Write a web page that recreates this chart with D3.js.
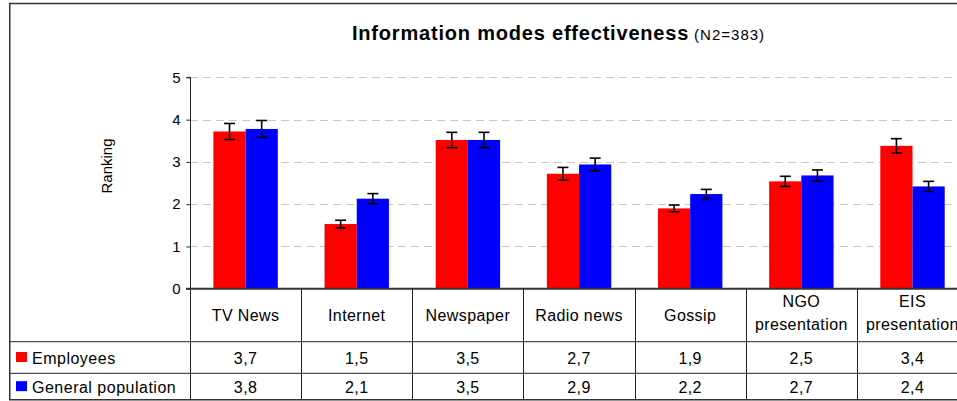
<!DOCTYPE html>
<html>
<head>
<meta charset="utf-8">
<script src="https://cdn.jsdelivr.net/npm/d3@7"></script>
<style>
  html, body { margin: 0; padding: 0; background: #fff; }
  svg { display: block; }
  text { font-family: "Liberation Sans", Arial, sans-serif; fill: #000; }
</style>
</head>
<body>
<svg id="chart" width="957" height="401"></svg>
<script>
// ---- data ----
const categories = ["TV News", "Internet", "Newspaper", "Radio news", "Gossip", "NGO presentation", "EIS presentation"];
const seriesNames = ["Employees", "General population"];
const employees = [3.72, 1.53, 3.52, 2.72, 1.90, 2.54, 3.38];
const generalPopulation = [3.78, 2.13, 3.52, 2.94, 2.24, 2.68, 2.42];
const employeesError = [0.19, 0.09, 0.18, 0.15, 0.08, 0.12, 0.17];
const generalPopulationError = [0.20, 0.12, 0.18, 0.15, 0.11, 0.13, 0.12];
const yTicks = [0, 1, 2, 3, 4, 5];
const seriesColors = ["#ff0000", "#0000ff"];
const titleText = "Information modes effectiveness";
const subtitleText = "(N2=383)";
const yAxisTitle = "Ranking";

// ---- layout ----
const W = 957, H = 401;
const plotLeft = 190, bandW = 111.15;
const y0 = 288.7, yTop = 77.4;
const row1 = 341.7, row2 = 373.3, tableBottom = 400;

const svg = d3.select("#chart");

const x = d3.scaleBand().domain(categories).range([plotLeft, plotLeft + bandW * categories.length]).padding(0);
const xs = d3.scaleBand().domain(seriesNames).range([23.4, 87.8]).padding(0);
const y = d3.scaleLinear().domain([0, 5]).range([y0, yTop]);

const values = [employees, generalPopulation];
const errors = [employeesError, generalPopulationError];

// gridlines
svg.append("g").selectAll("line").data(yTicks.filter(t => t > 0)).join("line")
  .attr("x1", plotLeft).attr("x2", 952)
  .attr("y1", d => Math.round(y(d)) + 0.5).attr("y2", d => Math.round(y(d)) + 0.5)
  .attr("stroke", "#c8c8c8").attr("stroke-width", 1).attr("stroke-dasharray", "8,5");

// bars
const rows = [];
categories.forEach((c, i) => seriesNames.forEach((s, j) => rows.push({c, s, j, v: values[j][i], e: errors[j][i]})));
svg.append("g").selectAll("rect").data(rows).join("rect")
  .attr("x", d => x(d.c) + xs(d.s))
  .attr("width", xs.bandwidth())
  .attr("y", d => y(d.v))
  .attr("height", d => y0 - y(d.v))
  .attr("fill", d => seriesColors[d.j]);

// error bars
const eg = svg.append("g").attr("stroke", "#000").attr("stroke-width", 1.6);
rows.forEach(d => {
  const cx = x(d.c) + xs(d.s) + xs.bandwidth() / 2;
  eg.append("line").attr("x1", cx).attr("x2", cx).attr("y1", y(d.v + d.e)).attr("y2", y(d.v - d.e));
  eg.append("line").attr("x1", cx - 5.5).attr("x2", cx + 5.5).attr("y1", y(d.v + d.e)).attr("y2", y(d.v + d.e));
  eg.append("line").attr("x1", cx - 5.5).attr("x2", cx + 5.5).attr("y1", y(d.v - d.e)).attr("y2", y(d.v - d.e));
});

// y axis
const yAxis = d3.axisLeft(y).tickValues(yTicks).tickSize(4).tickPadding(6).tickFormat(d3.format("d"));
const ya = svg.append("g").attr("transform", `translate(${plotLeft + 0.5},0)`).call(yAxis);
ya.select(".domain").attr("stroke", "#222").attr("d", `M-4,${y(5)}H0V${y0}`);
ya.selectAll(".tick line").attr("stroke", "#222");
ya.selectAll(".tick text").attr("font-size", 15).attr("font-family", "Liberation Sans, Arial, sans-serif").attr("fill", "#000");

// table lines
const tl = svg.append("g").attr("stroke", "#222").attr("stroke-width", 1);
categories.forEach(c => {
  tl.append("line").attr("x1", Math.round(x(c)) + 0.5).attr("x2", Math.round(x(c)) + 0.5).attr("y1", y0).attr("y2", tableBottom);
});
tl.append("line").attr("x1", 10).attr("x2", W).attr("y1", row1).attr("y2", row1);
tl.append("line").attr("x1", 10).attr("x2", W).attr("y1", row2).attr("y2", row2);

// x axis line (bold)
svg.append("line").attr("x1", plotLeft - 4).attr("x2", W).attr("y1", y0).attr("y2", y0)
  .attr("stroke", "#333").attr("stroke-width", 2);

// category headers
const hdr = svg.append("g");
categories.forEach(c => {
  const cx = x(c) + x.bandwidth() / 2;
  const t = hdr.append("text").attr("x", cx).attr("text-anchor", "middle")
    .attr("font-size", 16).attr("letter-spacing", 0.4);
  t.text(c);
  if (t.node().getComputedTextLength() > x.bandwidth() - 8) {
    t.text(null);
    const words = c.split(" ");
    words.forEach((w, k) => t.append("tspan").attr("x", cx).attr("y", (row1 + y0) / 2 - 8 + k * 23).text(w));
  } else {
    t.attr("y", (row1 + y0) / 2 + 6);
  }
});

// table values
const fmt = v => d3.format(".1f")(v).replace(".", ",");
const rowYs = [(row1 + row2) / 2 + 6, (row2 + tableBottom) / 2 + 6];
seriesNames.forEach((s, j) => {
  categories.forEach((c, i) => {
    svg.append("text").attr("x", x(c) + x.bandwidth() / 2).attr("y", rowYs[j])
      .attr("text-anchor", "middle").attr("font-size", 16).attr("letter-spacing", 0.4)
      .text(fmt(values[j][i]));
  });
  // legend key
  svg.append("rect").attr("x", 16).attr("y", rowYs[j] - 11.5).attr("width", 11).attr("height", 10).attr("fill", seriesColors[j]);
  svg.append("text").attr("x", 32).attr("y", rowYs[j]).attr("font-size", 16).attr("letter-spacing", 0.5).text(s);
});

// title
const title = svg.append("text").attr("x", 352).attr("y", 40).attr("font-size", 20).attr("font-weight", "bold").attr("letter-spacing", 0.8);
title.append("tspan").text(titleText);
title.append("tspan").attr("font-weight", "normal").attr("font-size", 15).attr("letter-spacing", 1).attr("dx", 5).text(subtitleText);

// y axis title
svg.append("text").attr("transform", `translate(112,166) rotate(-90)`).attr("text-anchor", "middle")
  .attr("font-size", 15).text(yAxisTitle);

// chart border
const bd = svg.append("g").attr("stroke", "#333").attr("stroke-width", 1.5).attr("fill", "none");
bd.append("path").attr("d", `M${W},3.5H9.75V${tableBottom - 0.25}H${W}`);
</script>
</body>
</html>
